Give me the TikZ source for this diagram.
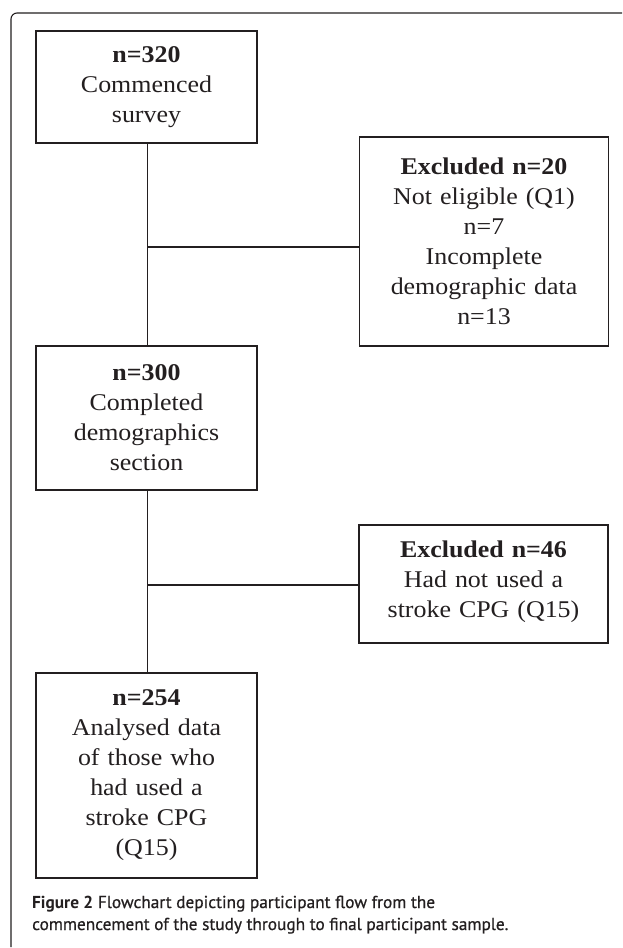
\documentclass[tikz,border=0pt]{standalone}
\usepackage{fontspec}
\newfontfamily\boxfont[FakeStretch=1.08]{Liberation Serif}
\newfontfamily\capfont{PT Sans}
\newfontfamily\capmed[FakeBold=0.7]{PT Sans}
\usetikzlibrary{calc}
\definecolor{ink}{HTML}{231F20}
\tikzset{
  box/.style={draw=ink, line width=1.4pt, align=center, inner sep=0pt,
    font=\boxfont\fontsize{24}{30}\selectfont, text=ink},
  leftbox/.style={box, minimum width=221pt, text width=215pt},
  rightbox/.style={box, minimum width=249pt, text width=243pt},
  conn/.style={draw=ink, line width=1.4pt},
  frame/.style={draw=ink, line width=1.1pt, rounded corners=6pt}
}
\begin{document}
\begin{tikzpicture}[x=1pt, y=-1pt]
\useasboundingbox (0,0) rectangle (622,948);
\fill[white] (0,0) rectangle (622,948);
\draw[frame] (622,13) -- (11,13) -- (11,947);

\node[leftbox, minimum height=112pt] (b1) at (146.5,87) {\textbf{n=320}\\Commenced\\survey};
\node[rightbox, minimum height=209pt] (b2) at (484,241.5) {\textbf{Excluded n=20}\\Not eligible (Q1)\\n=7\\Incomplete\\demographic data\\n=13};
\node[leftbox, minimum height=144pt] (b3) at (146.5,418) {\textbf{n=300}\\Completed\\demographics\\section};
\node[rightbox, minimum height=118pt] (b4) at (483.5,584) {\textbf{Excluded n=46}\\Had not used a\\stroke CPG (Q15)\rule[-10pt]{0pt}{0pt}};
\node[leftbox, minimum height=205pt] (b5) at (146.5,775.5) {\textbf{n=254}\\Analysed data\\of those who\\had used a\\stroke CPG\\(Q15)};

\coordinate (j1) at (147.5,247);
\coordinate (j2) at (147.5,585);
\draw[conn] (b1.south -| j1) -- (b3.north -| j1);
\draw[conn] (b3.south -| j2) -- (b5.north -| j2);
\draw[conn] (j1) -- (j1 -| b2.west);
\draw[conn] (j2) -- (j2 -| b4.west);

\node[anchor=base west, inner sep=0pt, align=left, text=ink,
  font=\capmed\fontsize{17.3}{22}\selectfont] (cap) at (32,930)
  {{\capfont\bfseries Figure 2} Flowchart depicting participant flow from the\\
   commencement of the study through to final participant sample.};
\end{tikzpicture}
\end{document}
